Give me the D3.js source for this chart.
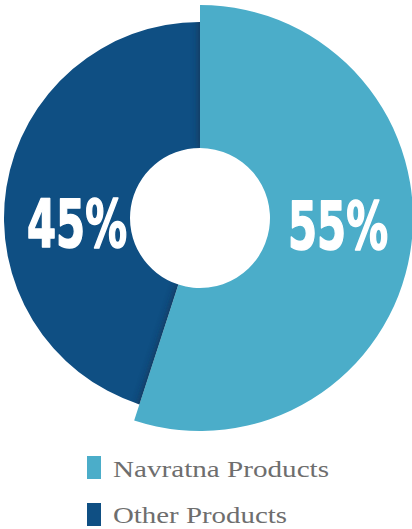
<!DOCTYPE html>
<html>
<head>
<meta charset="utf-8">
<script src="https://cdn.jsdelivr.net/npm/d3@7"></script>
<style>
  html, body { margin: 0; padding: 0; background: #fff; }
  svg { display: block; }
</style>
</head>
<body>
<svg id="chart" width="412" height="529"></svg>
<script>
// Share of products
const categories = ["Navratna Products", "Other Products"];
const values = [55, 45];
const valueLabels = ["55%", "45%"];
const colors = ["#4badc9", "#0f4f83"];

const svg = d3.select("#chart");
const cx = 200, cy = 218;
const innerR = 70;
const outerR = [213, 196];   // the first slice stands out from the ring

const pie = d3.pie().sort(null).value(d => d.value).startAngle(0).endAngle(2 * Math.PI);
const data = categories.map((c, i) => ({ name: c, value: values[i], label: valueLabels[i], color: colors[i], r: outerR[i] }));
const arcs = pie(data);

const arcGen = d => d3.arc().innerRadius(innerR).outerRadius(d.data.r)(d);

const defs = svg.append("defs");
defs.append("filter").attr("id", "soft").attr("x", "-20%").attr("y", "-20%").attr("width", "140%").attr("height", "140%")
  .append("feGaussianBlur").attr("stdDeviation", 4);
defs.append("clipPath").attr("id", "clipOther")
  .append("path").attr("d", arcGen(arcs[1])).attr("transform", `translate(${cx},${cy})`);

const g = svg.append("g").attr("transform", `translate(${cx},${cy})`);

// ring slices (smaller one drawn first)
g.append("path").attr("d", arcGen(arcs[1])).attr("fill", arcs[1].data.color);

// shadow of the raised slice falling on the other one
svg.append("g").attr("clip-path", "url(#clipOther)")
  .append("path")
  .attr("transform", `translate(${cx},${cy})`)
  .attr("d", arcGen(arcs[0]))
  .attr("fill", "#1c2c45")
  .attr("opacity", 0.85)
  .attr("filter", "url(#soft)");

g.append("path").attr("d", arcGen(arcs[0])).attr("fill", arcs[0].data.color);

// value labels, condensed horizontally to a fixed width
const labelPos = [{ x: 338, y: 249 }, { x: 77, y: 247 }];
const labelWidth = 100;
svg.selectAll("text.val").data(arcs).join("text")
  .attr("class", "val")
  .attr("text-anchor", "middle")
  .attr("font-family", "'Liberation Sans Narrow', 'DejaVu Sans Condensed', sans-serif")
  .attr("font-weight", "bold")
  .attr("font-size", 66)
  .attr("fill", "#fff")
  .attr("stroke", "#fff")
  .attr("stroke-width", 1.6)
  .attr("stroke-linejoin", "round")
  .text(d => d.data.label)
  .each(function (d, i) {
    const w = this.getComputedTextLength();
    const sx = w > 0 ? labelWidth / w : 1;
    d3.select(this).attr("transform", `translate(${labelPos[i].x},${labelPos[i].y}) scale(${sx},1)`);
  });

// legend
const legendRows = [{ y: 456, base: 477, len: 216 }, { y: 503, base: 523, len: 174 }];
const lg = svg.append("g");
lg.selectAll("rect").data(data).join("rect")
  .attr("x", 87).attr("y", (d, i) => legendRows[i].y)
  .attr("width", 14).attr("height", 23)
  .attr("fill", d => d.color);
lg.selectAll("text").data(data).join("text")
  .attr("x", 113).attr("y", (d, i) => legendRows[i].base)
  .attr("font-family", "'Liberation Serif', 'DejaVu Serif', serif")
  .attr("font-size", 23)
  .attr("fill", "#6e6e6e")
  .attr("textLength", (d, i) => legendRows[i].len)
  .attr("lengthAdjust", "spacingAndGlyphs")
  .text(d => d.name);
</script>
</body>
</html>
